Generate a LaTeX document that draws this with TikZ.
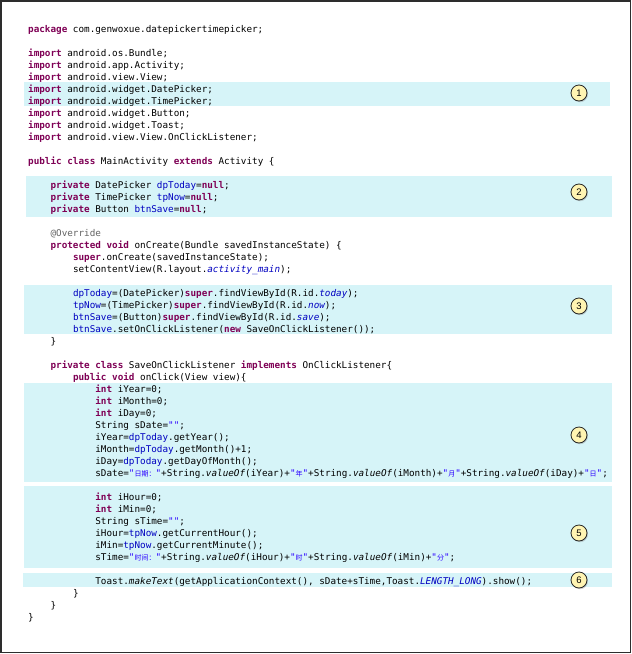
\documentclass[tikz,border=0pt]{standalone}
\usepackage{fontspec}
\setmonofont{DejaVu Sans Mono}
\setsansfont{Liberation Sans}
\newfontfamily\cjk{Noto Sans CJK SC}
\usetikzlibrary{positioning,shadows}

\definecolor{kwcol}{RGB}{127,0,85}
\definecolor{fdcol}{RGB}{0,0,192}
\definecolor{qscol}{RGB}{42,0,255}
\definecolor{anncol}{RGB}{100,100,100}
\definecolor{bandcol}{RGB}{214,244,248}
\definecolor{markcol}{RGB}{255,244,178}
\definecolor{framecol}{RGB}{45,45,45}

\newcommand{\kw}[1]{{\bfseries\color{kwcol}#1}}
\newcommand{\fd}[1]{{\color{fdcol}#1}}
\newcommand{\fdit}[1]{{\itshape\color{fdcol}#1}}
\newcommand{\qs}[1]{{\color{qscol}#1}}
\newcommand{\zh}[1]{{\cjk\fontsize{7}{7}\selectfont #1}}

\begin{document}
\begin{tikzpicture}[x=1pt,y=-1pt,
    code/.style={anchor=west,inner sep=0pt,text height=9.5pt,text depth=.5pt,
        font=\ttfamily\fontsize{9.3}{12}\selectfont},
    band/.style={fill=bandcol},
    callout/.style={circle,draw=black!85,line width=.8pt,fill=markcol,minimum size=16pt,
        inner sep=0pt,font=\sffamily\fontsize{9.5}{9.5}\selectfont,
        drop shadow={shadow xshift=1pt,shadow yshift=-1.2pt,opacity=.35}}]
    \useasboundingbox (0,0) rectangle (632,654);
    \fill[white] (0,0) rectangle (632,654);

    % highlighted blocks
    \path[band] (24,82) rectangle (610,106);
    \path[band] (26,176) rectangle (612,217);
    \path[band] (24,285) rectangle (612,334);
    \path[band] (24,383) rectangle (612,482);
    \path[band] (24,486) rectangle (612,568);
    \path[band] (23,573) rectangle (612,587);

    \node[code] at (28,28) (pkg) {\kw{package} com.genwoxue.datepickertimepicker;};
    \foreach \pkg [count=\i] in {android.os.Bundle,android.app.Activity,android.view.View,android.widget.DatePicker,android.widget.TimePicker,android.widget.Button,android.widget.Toast,android.view.View.OnClickListener}
        \node[code] at (28,40+12*\i) (imp\i) {\kw{import} \pkg;};

    \node[code] at (28,160) (cls) {\kw{public} \kw{class} MainActivity \kw{extends} Activity \{};
    \node[code] at (50.4,184) (dp) {\kw{private} DatePicker \fd{dpToday}=\kw{null};};
    \node[code] at (50.4,196) (tp) {\kw{private} TimePicker \fd{tpNow}=\kw{null};};
    \node[code] at (50.4,208) (bs) {\kw{private} Button \fd{btnSave}=\kw{null};};

    \node[code] at (50.4,232) (ovr) {{\color{anncol}@Override}};
    \node[code] at (50.4,244) (crt) {\kw{protected} \kw{void} onCreate(Bundle savedInstanceState) \{};
    \node[code] at (72.8,256) (sup) {\kw{super}.onCreate(savedInstanceState);};
    \node[code] at (72.8,268) (scv) {setContentView(R.layout.\fdit{activity\_main});};
    \node[code] at (72.8,292) (fdp) {\fd{dpToday}=(DatePicker)\kw{super}.findViewById(R.id.\fdit{today});};
    \node[code] at (72.8,304) (ftp) {\fd{tpNow}=(TimePicker)\kw{super}.findViewById(R.id.\fdit{now});};
    \node[code] at (72.8,316) (fbs) {\fd{btnSave}=(Button)\kw{super}.findViewById(R.id.\fdit{save});};
    \node[code] at (72.8,328) (lst) {\fd{btnSave}.setOnClickListener(\kw{new} SaveOnClickListener());};
    \node[code] at (50.4,340) (end1) {\}};

    \node[code] at (50.4,364) (inr) {\kw{private} \kw{class} SaveOnClickListener \kw{implements} OnClickListener\{};
    \node[code] at (72.8,376) (clk) {\kw{public} \kw{void} onClick(View view)\{};
    \node[code] at (95.2,388) (y0) {\kw{int} iYear=0;};
    \node[code] at (95.2,400) (m0) {\kw{int} iMonth=0;};
    \node[code] at (95.2,412) (d0) {\kw{int} iDay=0;};
    \node[code] at (95.2,424) (sd0) {String sDate=\qs{""};};
    \node[code] at (95.2,436) (gy) {iYear=\fd{dpToday}.getYear();};
    \node[code] at (95.2,448) (gm) {iMonth=\fd{dpToday}.getMonth()+1;};
    \node[code] at (95.2,460) (gd) {iDay=\fd{dpToday}.getDayOfMonth();};
    \node[code] at (95.2,472) (sd) {sDate=\qs{"\zh{日期：}"}+String.\textit{valueOf}(iYear)+\qs{"\zh{年}"}+String.\textit{valueOf}(iMonth)+\qs{"\zh{月}"}+String.\textit{valueOf}(iDay)+\qs{"\zh{日}"};};

    \node[code] at (95.2,496) (h0) {\kw{int} iHour=0;};
    \node[code] at (95.2,508) (mi0) {\kw{int} iMin=0;};
    \node[code] at (95.2,520) (st0) {String sTime=\qs{""};};
    \node[code] at (95.2,532) (gh) {iHour=\fd{tpNow}.getCurrentHour();};
    \node[code] at (95.2,544) (gmi) {iMin=\fd{tpNow}.getCurrentMinute();};
    \node[code] at (95.2,556) (st) {sTime=\qs{"\zh{时间：}"}+String.\textit{valueOf}(iHour)+\qs{"\zh{时}"}+String.\textit{valueOf}(iMin)+\qs{"\zh{分}"};};

    \node[code] at (95.2,580) (tst) {Toast.\textit{makeText}(getApplicationContext(), sDate+sTime,Toast.\fdit{LENGTH\_LONG}).show();};
    \node[code] at (72.8,592) (end2) {\}};
    \node[code] at (50.4,604) (end3) {\}};
    \node[code] at (28,616) (end4) {\}};

    % numbered markers
    \node[callout] at (579,93) (n1) {1};
    \node[callout] at (579,192) (n2) {2};
    \node[callout] at (579,306) (n3) {3};
    \node[callout] at (579,435) (n4) {4};
    \node[callout] at (579,533) (n5) {5};
    \node[callout] at (579,580) (n6) {6};

    \draw[framecol,line width=1.6pt] (1,1) rectangle (630.5,652.5);
\end{tikzpicture}
\end{document}
